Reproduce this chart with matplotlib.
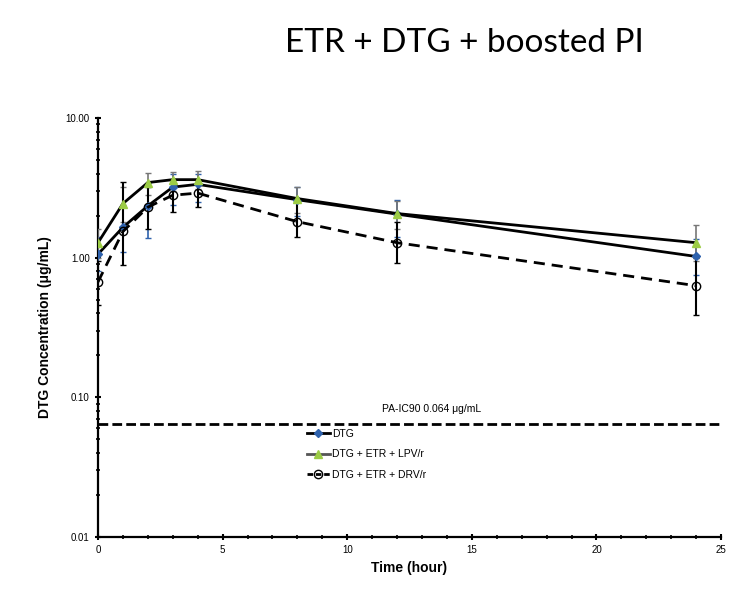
import matplotlib
matplotlib.use('Agg')
import matplotlib.pyplot as plt
from matplotlib.lines import Line2D
from matplotlib.ticker import FixedLocator, LogLocator, NullFormatter, MultipleLocator

plt.rcParams['font.family'] = ['Liberation Sans', 'DejaVu Sans']

# sampling times (hours)
time = [0, 1, 2, 3, 4, 8, 12, 24]

# mean concentrations (ug/mL)
dtg = [1.06, 1.65, 2.35, 3.20, 3.35, 2.60, 2.05, 1.02]
dtg_lpv = [1.28, 2.44, 3.45, 3.62, 3.62, 2.65, 2.07, 1.28]
dtg_drv = [0.67, 1.54, 2.30, 2.80, 2.90, 1.81, 1.28, 0.63]

# error bar limits (lower, upper)
dtg_lo = [0.80, 1.10, 1.39, 2.40, 2.50, 2.00, 1.40, 0.75]
dtg_hi = [1.40, 2.40, 3.40, 4.00, 4.00, 3.20, 2.60, 1.35]
lpv_lo = [1.00, 1.80, 2.80, 3.00, 3.10, 2.10, 1.60, 0.95]
lpv_hi = [1.60, 3.20, 4.06, 4.10, 4.20, 3.23, 2.55, 1.72]
drv_lo = [0.46, 0.89, 1.60, 2.14, 2.30, 1.41, 0.92, 0.39]
drv_hi = [0.95, 3.50, 3.20, 3.60, 3.60, 2.50, 1.80, 1.00]

ic90 = 0.064

fig = plt.figure(figsize=(7.33, 5.93), dpi=100)
ax = fig.add_axes([0.1337, 0.0944, 0.85, 0.7066])

def err(mean, lo, hi):
    return [[m - l for m, l in zip(mean, lo)], [h - m for m, h in zip(mean, hi)]]

blue = '#2f62ad'
green = '#9ccc45'

ax.errorbar(time, dtg, yerr=err(dtg, dtg_lo, dtg_hi), color='black', lw=2,
            marker='D', ms=4, mfc=blue, mec=blue, ecolor=blue,
            elinewidth=1.2, capsize=2, zorder=3)
ax.errorbar(time, dtg_lpv, yerr=err(dtg_lpv, lpv_lo, lpv_hi), color='black', lw=2,
            marker='^', ms=6, mfc=green, mec=green, ecolor='#777777',
            elinewidth=1.2, capsize=2, zorder=3)
ax.errorbar(time, dtg_drv, yerr=err(dtg_drv, drv_lo, drv_hi), color='black', lw=2,
            ls=(0, (4, 2.5)), marker='o', ms=6, mfc='none', mec='black', ecolor='black',
            elinewidth=1.5, capsize=2, zorder=3)

ax.axhline(ic90, color='black', lw=2, ls=(0, (3.5, 1.5)))
ax.text(13.4, ic90 * 1.18, u'PA-IC90 0.064 \u03bcg/mL', ha='center', va='bottom', fontsize=7.5)

ax.set_yscale('log')
ax.set_ylim(0.01, 10)
ax.set_xlim(0, 25)
ax.yaxis.set_major_locator(FixedLocator([0.01, 0.1, 1, 10]))
ax.set_yticklabels(['0.01', '0.10', '1.00', '10.00'])
ax.yaxis.set_minor_locator(LogLocator(base=10, subs=range(2, 10)))
ax.yaxis.set_minor_formatter(NullFormatter())
ax.xaxis.set_major_locator(MultipleLocator(5))
ax.xaxis.set_minor_locator(MultipleLocator(1))

for s in ['top', 'right']:
    ax.spines[s].set_visible(False)
for s in ['left', 'bottom']:
    ax.spines[s].set_linewidth(1.6)
ax.tick_params(which='major', length=5, width=1.5, labelsize=7, direction='inout')
ax.tick_params(which='minor', length=3, width=1.2, direction='inout')

ax.set_xlabel('Time (hour)', fontsize=10, fontweight='bold', labelpad=4)
ax.set_ylabel(u'DTG Concentration (\u03bcg/mL)', fontsize=10, fontweight='bold', labelpad=10)

# legend keys: line with marker only, no error bars
handles = [
    Line2D([], [], color='black', lw=2, marker='D', ms=4, mfc=blue, mec=blue),
    Line2D([], [], color='#555555', lw=2, marker='^', ms=6, mfc=green, mec=green),
    Line2D([], [], color='black', lw=2, ls=(0, (2, 1)), marker='o', ms=6, mfc='none', mec='black'),
]
labels = ['DTG', 'DTG + ETR + LPV/r', 'DTG + ETR + DRV/r']
ax.legend(handles, labels, loc='upper left', bbox_to_anchor=(0.32, 0.28), frameon=False,
          fontsize=7.5, handlelength=2.2, handletextpad=0.2, labelspacing=1.0)

fig.text(0.634, 0.928, 'ETR + DTG + boosted PI', ha='center', va='center',
         fontsize=24, family=['Lato', 'DejaVu Sans'])

fig.savefig('out.png', dpi=100)
